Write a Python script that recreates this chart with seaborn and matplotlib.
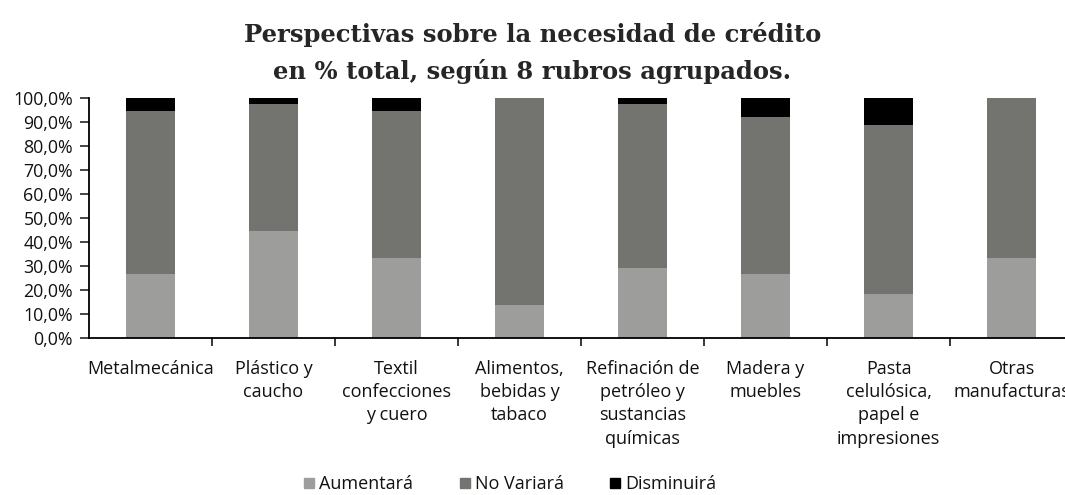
import numpy as np
import pandas as pd
import matplotlib
matplotlib.use('Agg')
import matplotlib.pyplot as plt
import seaborn as sns
from matplotlib.lines import Line2D
from matplotlib.ticker import FuncFormatter, FixedLocator

# --- datos ---
rubros = ['Metalmecánica', 'Plástico y\ncaucho', 'Textil\nconfecciones\ny cuero',
          'Alimentos,\nbebidas y\ntabaco', 'Refinación de\npetróleo y\nsustancias\nquímicas',
          'Madera y\nmuebles', 'Pasta\ncelulósica,\npapel e\nimpresiones', 'Otras\nmanufacturas']
aumentara = [26.5, 44.5, 33.3, 13.4, 29.0, 26.5, 18.1, 33.3]
no_variara = [68.0, 53.0, 61.2, 86.6, 68.5, 65.5, 70.6, 66.7]
disminuira = [5.5, 2.5, 5.5, 0.0, 2.5, 8.0, 11.3, 0.0]

colores = {'Aumentará': '#9d9d9c', 'No Variará': '#737370', 'Disminuirá': '#000000'}

sns.set_style('white')
plt.rcParams['font.family'] = ['Open Sans', 'DejaVu Sans']

df = pd.DataFrame({'rubro': rubros, 'Aumentará': aumentara,
                   'No Variará': no_variara, 'Disminuirá': disminuira})
df['nivel2'] = df['Aumentará'] + df['No Variará']
df['nivel3'] = df['nivel2'] + df['Disminuirá']

fig = plt.figure(figsize=(10.65, 4.95), dpi=100)
ax = fig.add_axes([0.0836, 0.318, 0.924, 0.484])

# barras apiladas: se dibuja de arriba hacia abajo
for col, key in [('nivel3', 'Disminuirá'), ('nivel2', 'No Variará'), ('Aumentará', 'Aumentará')]:
    sns.barplot(data=df, x='rubro', y=col, color=colores[key], width=0.4,
                saturation=1, linewidth=0, edgecolor='none', ax=ax)

ax.set_ylim(0, 100)
ax.set_xlim(-0.5, 7.5)
ax.yaxis.set_major_locator(FixedLocator(np.arange(0, 101, 10)))
ax.yaxis.set_major_formatter(FuncFormatter(lambda v, p: f'{v:.1f}%'.replace('.', ',')))
ax.set_xlabel('')
ax.set_ylabel('')

for s in ['top', 'right']:
    ax.spines[s].set_visible(False)
for s in ['left', 'bottom']:
    ax.spines[s].set_color('black')
    ax.spines[s].set_linewidth(1.3)
    ax.spines[s].set_clip_on(False)

ax.tick_params(axis='y', which='major', direction='out', length=6.5, width=1.2,
               labelsize=12.8, pad=5, left=True, labelcolor='#111111')
ax.tick_params(axis='x', which='major', length=0, labelsize=13, pad=16, labelcolor='#111111')
ax.xaxis.set_minor_locator(FixedLocator(np.arange(0.5, 7.5, 1)))
ax.tick_params(axis='x', which='minor', direction='out', length=6, width=1.3, bottom=True)
for lbl in ax.get_xticklabels():
    lbl.set_linespacing(1.38)
    lbl.set_verticalalignment('top')
    lbl.set_horizontalalignment('center')

fig.text(0.5, 0.93, 'Perspectivas sobre la necesidad de crédito',
         ha='center', va='center', fontsize=17.5, fontweight='bold', family='DejaVu Serif')
fig.text(0.5, 0.855, 'en % total, según 8 rubros agrupados.',
         ha='center', va='center', fontsize=17.5, fontweight='bold', family='DejaVu Serif')

handles = [Line2D([0], [0], marker='s', linestyle='', markersize=7.5,
                  markerfacecolor=c, markeredgecolor=c) for c in colores.values()]
fig.legend(handles, list(colores.keys()), loc='center', bbox_to_anchor=(0.478, 0.022),
           ncol=3, frameon=False, fontsize=13, handlelength=0.8, handletextpad=0.15,
           columnspacing=2.45, labelcolor='#111111')

fig.savefig('out.png', dpi=100)
